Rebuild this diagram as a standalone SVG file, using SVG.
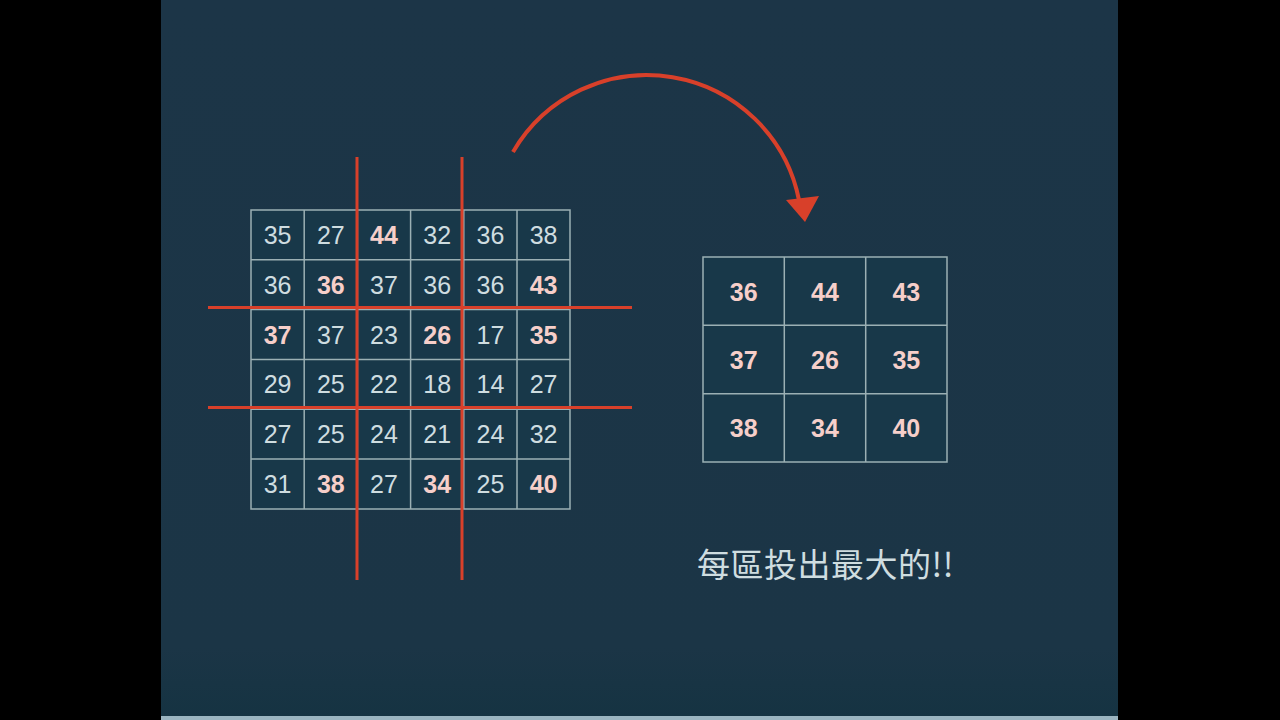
<svg xmlns="http://www.w3.org/2000/svg" width="1280" height="720" viewBox="0 0 1280 720">
<defs>
<linearGradient id="bg" x1="0" y1="0" x2="0" y2="1">
<stop offset="0" stop-color="#1c3547"/>
<stop offset="0.9" stop-color="#1b3546"/>
<stop offset="1" stop-color="#153342"/>
</linearGradient>
<style>
.cell{fill:#183849;stroke:#9bb0b4;stroke-width:1.5}
.lines{fill:none;stroke:#9bb0b4;stroke-width:1.5}
.n{font-family:"Liberation Sans",Arial,sans-serif;font-size:25px;fill:#cfdde0;text-anchor:middle}
.b{font-family:"Liberation Sans",Arial,sans-serif;font-size:25px;font-weight:bold;fill:#f6cfca;text-anchor:middle}
.red{stroke:#d8402a;stroke-width:3;fill:none}
.arc{stroke:#d8402a;stroke-width:4;fill:none}
</style>
</defs>
<rect x="0" y="0" width="1280" height="720" fill="#000"/>
<rect x="161" y="0" width="957" height="720" fill="url(#bg)"/>
<rect x="161" y="716" width="957" height="4" fill="#9ab4c0"/>

<g id="input-grid">
<path class="cell" d="M251,210H570V509H251Z"/>
<path class="lines" d="M304.2,210V509 M357.4,210V509 M410.6,210V509 M463.8,210V509 M517,210V509 M251,259.8H570 M251,309.6H570 M251,359.4H570 M251,409.2H570 M251,459H570"/>
<g>
<text class="n" x="277.6" y="244">35</text><text class="n" x="330.8" y="244">27</text><text class="b" x="384" y="244">44</text><text class="n" x="437.2" y="244">32</text><text class="n" x="490.4" y="244">36</text><text class="n" x="543.6" y="244">38</text>
<text class="n" x="277.6" y="293.8">36</text><text class="b" x="330.8" y="293.8">36</text><text class="n" x="384" y="293.8">37</text><text class="n" x="437.2" y="293.8">36</text><text class="n" x="490.4" y="293.8">36</text><text class="b" x="543.6" y="293.8">43</text>
<text class="b" x="277.6" y="343.6">37</text><text class="n" x="330.8" y="343.6">37</text><text class="n" x="384" y="343.6">23</text><text class="b" x="437.2" y="343.6">26</text><text class="n" x="490.4" y="343.6">17</text><text class="b" x="543.6" y="343.6">35</text>
<text class="n" x="277.6" y="393.4">29</text><text class="n" x="330.8" y="393.4">25</text><text class="n" x="384" y="393.4">22</text><text class="n" x="437.2" y="393.4">18</text><text class="n" x="490.4" y="393.4">14</text><text class="n" x="543.6" y="393.4">27</text>
<text class="n" x="277.6" y="443.2">27</text><text class="n" x="330.8" y="443.2">25</text><text class="n" x="384" y="443.2">24</text><text class="n" x="437.2" y="443.2">21</text><text class="n" x="490.4" y="443.2">24</text><text class="n" x="543.6" y="443.2">32</text>
<text class="n" x="277.6" y="493">31</text><text class="b" x="330.8" y="493">38</text><text class="n" x="384" y="493">27</text><text class="b" x="437.2" y="493">34</text><text class="n" x="490.4" y="493">25</text><text class="b" x="543.6" y="493">40</text>
</g>
<path class="red" d="M357,157V580 M462,157V580 M208,307.5H632 M208,407.5H632"/>
</g>

<g id="output-grid">
<path class="cell" d="M703,257H947V462H703Z"/>
<path class="lines" d="M784.3,257V462 M865.7,257V462 M703,325.3H947 M703,393.7H947"/>
<text class="b" x="743.7" y="300.5">36</text><text class="b" x="825" y="300.5">44</text><text class="b" x="906.3" y="300.5">43</text>
<text class="b" x="743.7" y="369">37</text><text class="b" x="825" y="369">26</text><text class="b" x="906.3" y="369">35</text>
<text class="b" x="743.7" y="437.3">38</text><text class="b" x="825" y="437.3">34</text><text class="b" x="906.3" y="437.3">40</text>
</g>

<g id="connectors">
<path class="arc" d="M513,152 A155,155 0 0 1 799,200"/>
<polygon points="786,200 819,196 805,222" fill="#d8402a"/>
</g>

<g id="caption">
<text x="697" y="577" font-family="'Noto Sans CJK TC','Noto Sans CJK SC',sans-serif" font-size="33" letter-spacing="0.5" fill="#cfdde0">每區投出最大的!!</text>
</g>
</svg>
